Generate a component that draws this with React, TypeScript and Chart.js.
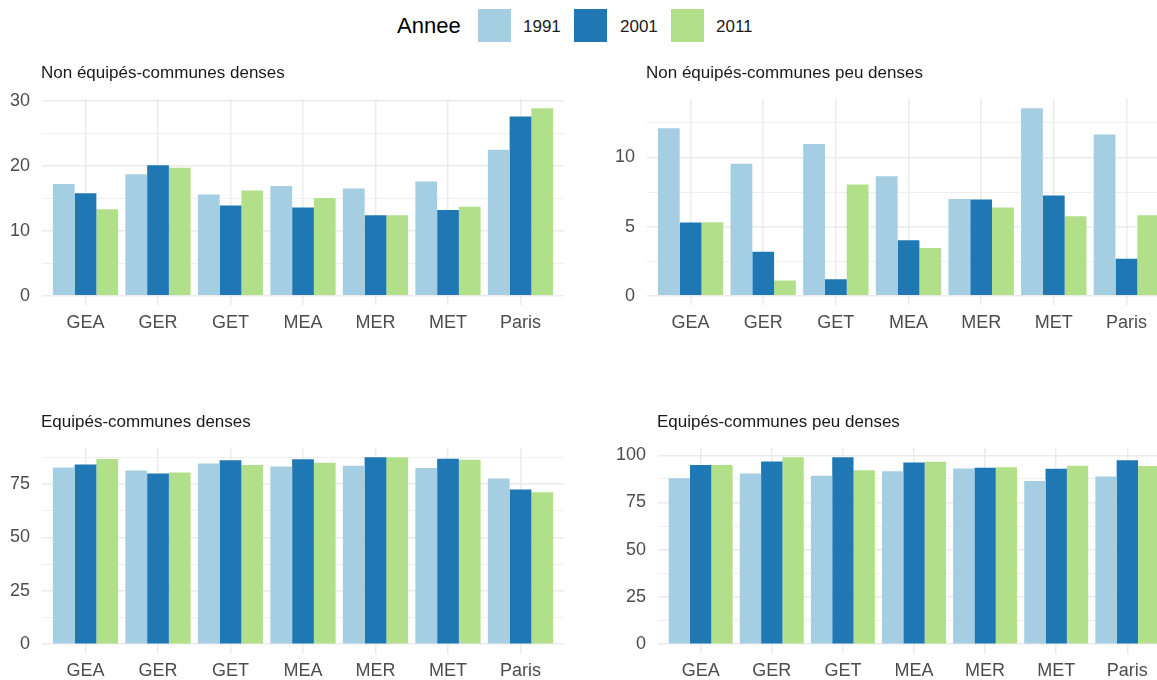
import React, { useEffect, useRef } from "react";
import { Chart, registerables } from "chart.js";

Chart.register(...registerables);

// ---------- data ----------
const categories = ["GEA", "GER", "GET", "MEA", "MER", "MET", "Paris"];
const years = ["1991", "2001", "2011"];
const yearColors = ["#A6CEE3", "#1F78B4", "#B2DF8A"];

const nonEquipDenses1991 = [17.2, 18.7, 15.6, 16.9, 16.5, 17.6, 22.5];
const nonEquipDenses2001 = [15.8, 20.1, 13.9, 13.6, 12.4, 13.2, 27.6];
const nonEquipDenses2011 = [13.3, 19.7, 16.2, 15.05, 12.4, 13.7, 28.9];

const nonEquipPeuDenses1991 = [12.12, 9.55, 10.98, 8.64, 7.0, 13.57, 11.67];
const nonEquipPeuDenses2001 = [5.29, 3.17, 1.19, 4.0, 6.95, 7.24, 2.67];
const nonEquipPeuDenses2011 = [5.31, 1.1, 8.05, 3.45, 6.38, 5.74, 5.81];

const equipDenses1991 = [82.7, 81.3, 84.6, 83.2, 83.6, 82.5, 77.6];
const equipDenses2001 = [84.1, 79.9, 86.1, 86.6, 87.6, 86.9, 72.4];
const equipDenses2011 = [86.7, 80.4, 83.9, 85.0, 87.6, 86.4, 71.2];

const equipPeuDenses1991 = [87.8, 90.4, 89.2, 91.5, 93.0, 86.4, 88.7];
const equipPeuDenses2001 = [94.8, 96.7, 99.0, 96.2, 93.4, 92.9, 97.4];
const equipPeuDenses2011 = [94.8, 99.0, 92.0, 96.5, 93.7, 94.4, 94.3];

const ticksNonEquipDenses = [0, 10, 20, 30];
const ticksNonEquipPeuDenses = [0, 5, 10];
const ticksEquipDenses = [0, 25, 50, 75];
const ticksEquipPeuDenses = [0, 25, 50, 75, 100];

const titles = [
  "Non équipés-communes denses",
  "Non équipés-communes peu denses",
  "Equipés-communes denses",
  "Equipés-communes peu denses",
];

// ---------- layout ----------
const FONT = '"Liberation Sans", Arial, Helvetica, sans-serif';

type PanelDef = {
  title: string;
  series: number[][];
  majors: number[];
  left: number;
  top: number;
  w: number;
  h: number;
  plotLeft: number;
  plotRight: number;
  plotTop: number;
  plotBottom: number;
};

const panels: PanelDef[] = [
  {
    title: titles[0],
    series: [nonEquipDenses1991, nonEquipDenses2001, nonEquipDenses2011],
    majors: ticksNonEquipDenses,
    left: 0, top: 76, w: 580, h: 264,
    plotLeft: 42, plotRight: 564, plotTop: 96, plotBottom: 305,
  },
  {
    title: titles[1],
    series: [nonEquipPeuDenses1991, nonEquipPeuDenses2001, nonEquipPeuDenses2011],
    majors: ticksNonEquipPeuDenses,
    left: 580, top: 76, w: 600, h: 264,
    plotLeft: 647, plotRight: 1170, plotTop: 96, plotBottom: 305,
  },
  {
    title: titles[2],
    series: [equipDenses1991, equipDenses2001, equipDenses2011],
    majors: ticksEquipDenses,
    left: 0, top: 425, w: 580, h: 255,
    plotLeft: 42, plotRight: 564, plotTop: 445, plotBottom: 653.5,
  },
  {
    title: titles[3],
    series: [equipPeuDenses1991, equipPeuDenses2001, equipPeuDenses2011],
    majors: ticksEquipPeuDenses,
    left: 580, top: 425, w: 600, h: 255,
    plotLeft: 658, plotRight: 1170, plotTop: 445, plotBottom: 653.5,
  },
];

function Panel({ p }: { p: PanelDef }) {
  const ref = useRef<HTMLCanvasElement>(null);
  useEffect(() => {
    const all = p.series.flat();
    const dataMax = Math.max(...all);
    const yMin = -0.05 * dataMax;
    const yMax = 1.05 * dataMax;
    const step = p.majors[1] - p.majors[0];
    const allTicks: number[] = [];
    for (let v = 0; v <= yMax + 1e-9; v += step / 2) allTicks.push(v);
    const isMajor = (v: number) => p.majors.some((m) => Math.abs(m - v) < 1e-9);

    const chart = new Chart(ref.current!, {
      type: "bar",
      data: {
        datasets: years.map((y, i) => ({
          label: y,
          data: p.series[i].map((v, j) => ({ x: j, y: v })),
          backgroundColor: yearColors[i],
          borderWidth: 0,
          categoryPercentage: 0.9,
          barPercentage: 1.0,
        })),
      },
      options: {
        animation: false,
        responsive: false,
        maintainAspectRatio: false,
        layout: {
          padding: {
            top: p.plotTop - p.top,
            right: p.left + p.w - p.plotRight,
            left: 0,
            bottom: 0,
          },
        },
        plugins: {
          legend: { display: false },
          tooltip: { enabled: false },
        },
        scales: {
          x: {
            type: "linear",
            offset: false,
            min: -0.6,
            max: categories.length - 1 + 0.6,
            border: { display: false },
            grid: { color: "#EBEBEB", lineWidth: 1.5, drawTicks: false, offset: false },
            afterBuildTicks: (s: any) => {
              s.ticks = categories.map((_, i) => ({ value: i }));
            },
            afterFit: (s: any) => {
              s.height = p.top + p.h - p.plotBottom;
            },
            ticks: {
              autoSkip: false,
              maxRotation: 0,
              padding: 7,
              color: "#4D4D4D",
              font: { family: FONT, size: 18 },
              callback: (v: any) => categories[Math.round(Number(v))] ?? "",
            },
          },
          y: {
            type: "linear",
            min: yMin,
            max: yMax,
            border: { display: false },
            grid: {
              color: "#EBEBEB",
              drawTicks: false,
              lineWidth: (ctx: any) => (ctx.tick && isMajor(ctx.tick.value) ? 1.5 : 0.8),
            },
            afterBuildTicks: (s: any) => {
              s.ticks = allTicks.map((v) => ({ value: v }));
            },
            afterFit: (s: any) => {
              s.width = p.plotLeft - p.left;
            },
            ticks: {
              padding: 12,
              color: "#4D4D4D",
              font: { family: FONT, size: 18 },
              callback: (v: any) => (isMajor(Number(v)) ? String(Math.round(Number(v))) : ""),
            },
          },
        },
      },
    } as any);
    return () => chart.destroy();
  }, [p]);

  return (
    <>
      <canvas
        ref={ref}
        width={p.w}
        height={p.h}
        style={{ position: "absolute", left: p.left, top: p.top, width: p.w, height: p.h }}
      />
      <div
        style={{
          position: "absolute",
          left: p.plotLeft - 1,
          top: p.plotTop - 33,
          fontFamily: FONT,
          fontSize: 17,
          lineHeight: "20px",
          color: "#1A1A1A",
          whiteSpace: "nowrap",
        }}
      >
        {p.title}
      </div>
    </>
  );
}

const legendBoxX = [478, 574, 671];
const legendLabelX = [524, 621, 717];

export default function App() {
  return (
    <div
      style={{
        position: "fixed",
        left: 0,
        top: 0,
        width: 1157,
        height: 680,
        overflow: "hidden",
        background: "#FFFFFF",
        fontFamily: FONT,
      }}
    >
      {panels.map((p, i) => (
        <Panel key={i} p={p} />
      ))}
      <div
        style={{
          position: "absolute",
          left: 397,
          top: 11,
          fontSize: 22,
          lineHeight: "30px",
          color: "#000000",
        }}
      >
        Annee
      </div>
      {years.map((y, i) => (
        <React.Fragment key={y}>
          <div
            style={{
              position: "absolute",
              left: legendBoxX[i],
              top: 9,
              width: 33,
              height: 33,
              background: yearColors[i],
            }}
          />
          <div
            style={{
              position: "absolute",
              left: legendLabelX[i] - 1,
              top: 11.5,
              fontSize: 17,
              lineHeight: "30px",
              color: "#1A1A1A",
            }}
          >
            {y}
          </div>
        </React.Fragment>
      ))}
    </div>
  );
}
